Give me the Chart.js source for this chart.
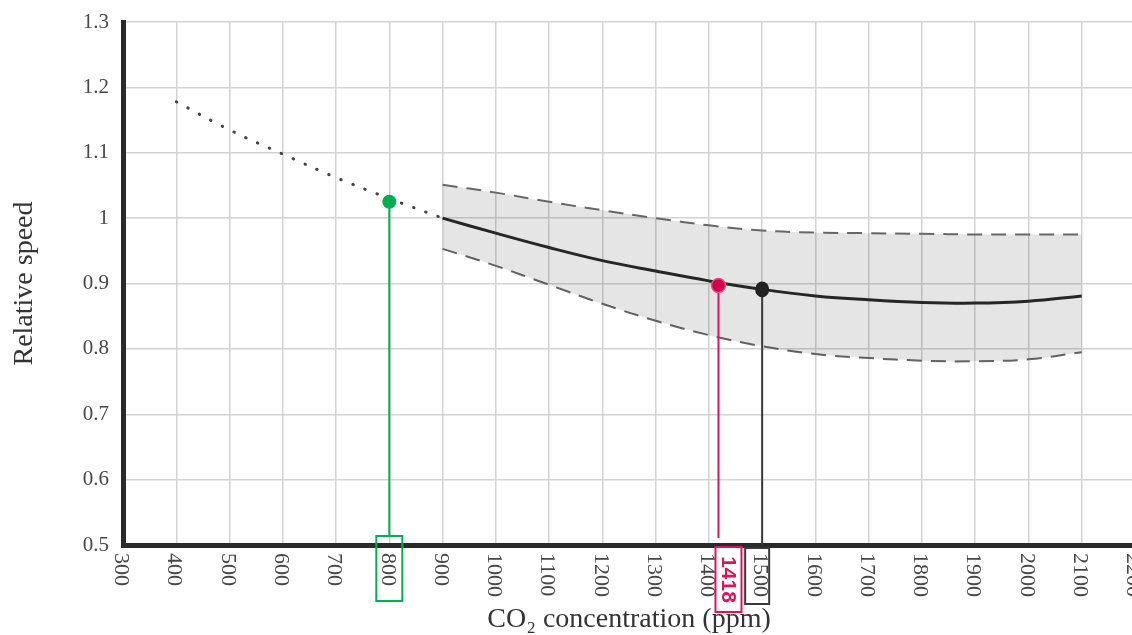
<!DOCTYPE html>
<html>
<head>
<meta charset="utf-8">
<script src="https://cdn.jsdelivr.net/npm/chart.js@4.4.1/dist/chart.umd.min.js"></script>
<style>
  html, body { margin: 0; padding: 0; background: #fff; overflow: hidden; }
  #chart { display: block; }
</style>
</head>
<body>
<canvas id="chart" width="1140" height="635"></canvas>
<script>
// modelled range (ppm) with mean and spread
const co2Band = [900, 1000, 1100, 1200, 1300, 1400, 1500, 1600, 1700, 1800, 1900, 2000, 2100];
const speedMean = [1.0, 0.977, 0.955, 0.935, 0.919, 0.904, 0.891, 0.881, 0.875, 0.871, 0.870, 0.873, 0.881];
const speedUpper = [1.051, 1.039, 1.025, 1.012, 1.0, 0.989, 0.981, 0.978, 0.977, 0.976, 0.975, 0.975, 0.975];
const speedLower = [0.953, 0.927, 0.898, 0.869, 0.843, 0.821, 0.804, 0.792, 0.786, 0.782, 0.781, 0.784, 0.795];

// dotted extrapolation below 900 ppm
const co2Extra = [400, 500, 600, 700, 800, 900];
const speedExtra = [1.178, 1.135, 1.098, 1.062, 1.03, 1.0];

// highlighted readings
const markerCo2 = [800, 1418, 1500];
const markerSpeed = [1.025, 0.897, 0.891];

const pts = (xs, ys) => xs.map((x, i) => ({ x: x, y: ys[i] }));

const serif = "'Liberation Serif', 'Times New Roman', serif";

const markerPlugin = {
  id: "markers",
  afterDraw(chart) {
    const ctx = chart.ctx;
    const xs = chart.scales.x;
    const ys = chart.scales.y;

    // rotated x tick labels, reading top to bottom
    ctx.save();
    ctx.font = "22px " + serif;
    ctx.fillStyle = "#484848";
    ctx.textAlign = "left";
    ctx.textBaseline = "middle";
    xs.ticks.forEach((t) => {
      const px = xs.getPixelForValue(t.value) - 2;
      ctx.save();
      ctx.translate(px, 553);
      ctx.rotate(Math.PI / 2);
      ctx.fillText(String(t.value), 0, 0);
      ctx.restore();
    });
    ctx.restore();

    const styles = [
      { color: "#00b050", lineEnd: 536, box: [-13, 536, 26, 65], dot: "#00b050" },
      { color: "#e0115f", lineEnd: 538, box: [-3, 547, 26, 65], dot: "#d4004f" },
      { color: "#3a3a3a", lineEnd: 545, box: [-17, 548, 24, 56], dot: "#222" },
    ];

    markerCo2.forEach((c, i) => {
      const s = styles[i];
      const px = xs.getPixelForValue(c);
      const py = ys.getPixelForValue(markerSpeed[i]);
      ctx.save();
      ctx.strokeStyle = s.color;
      ctx.lineWidth = 2;
      ctx.beginPath();
      ctx.moveTo(px, py);
      ctx.lineTo(px, s.lineEnd);
      ctx.stroke();

      ctx.fillStyle = s.dot;
      ctx.beginPath();
      ctx.ellipse(px, py, 7, i === 2 ? 8 : 7, 0, 0, Math.PI * 2);
      ctx.fill();
      if (i === 1) {
        ctx.strokeStyle = "#f04a86";
        ctx.lineWidth = 1.5;
        ctx.stroke();
      }

      ctx.strokeStyle = s.color;
      ctx.lineWidth = 2;
      ctx.strokeRect(px + s.box[0], s.box[1], s.box[2], s.box[3]);

      if (i === 1) {
        ctx.fillStyle = s.color;
        ctx.font = "bold 21px 'Liberation Sans', Arial, sans-serif";
        ctx.textAlign = "center";
        ctx.textBaseline = "middle";
        ctx.translate(px + s.box[0] + s.box[2] / 2, s.box[1] + s.box[3] / 2);
        ctx.rotate(Math.PI / 2);
        ctx.fillText(String(c), 0, 1);
      }
      ctx.restore();
    });
  },
};

new Chart("chart", {
  type: "line",
  data: {
    datasets: [
      {
        data: pts(co2Band, speedUpper),
        borderColor: "#666",
        borderWidth: 2,
        borderDash: [15, 9],
        backgroundColor: "rgba(0,0,0,0.1)",
        fill: "+1",
        pointRadius: 0,
        tension: 0.4,
      },
      {
        data: pts(co2Band, speedLower),
        borderColor: "#666",
        borderWidth: 2,
        borderDash: [15, 9],
        pointRadius: 0,
        fill: false,
        tension: 0.4,
      },
      {
        data: pts(co2Band, speedMean),
        borderColor: "#2b2b2b",
        borderWidth: 3,
        pointRadius: 0,
        fill: false,
        tension: 0.4,
      },
      {
        data: pts(co2Extra, speedExtra),
        borderColor: "#444",
        borderWidth: 3,
        borderDash: [0.5, 12.5],
        borderCapStyle: "round",
        pointRadius: 0,
        fill: false,
        tension: 0.4,
      },
    ],
  },
  options: {
    responsive: false,
    animation: false,
    layout: { padding: { top: 22, right: 5, left: 0, bottom: 0 } },
    plugins: {
      legend: { display: false },
      tooltip: { enabled: false },
    },
    scales: {
      x: {
        type: "linear",
        min: 300,
        max: 2200,
        afterFit: (s) => { s.height = 90; },
        ticks: { stepSize: 100, display: false, autoSkip: false },
        grid: { color: "#d3d3d3", lineWidth: 1.5, drawTicks: false },
        border: { color: "#2a2a2a", width: 5 },
        title: {
          display: true,
          text: "CO\u2082 concentration (ppm)",
          color: "#333",
          font: { family: serif, size: 28 },
          padding: { top: 0, bottom: -1 },
        },
      },
      y: {
        min: 0.5,
        max: 1.3,
        afterFit: (s) => {
          s.width = 123;
          s.paddingTop = 0;
          s.paddingBottom = 0;
        },
        ticks: {
          stepSize: 0.1,
          padding: 14,
          color: "#484848",
          font: { family: serif, size: 21 },
          callback: (v) => String(+v.toFixed(1)),
        },
        grid: { color: "#d3d3d3", lineWidth: 1.5, drawTicks: false },
        border: { color: "#2a2a2a", width: 5 },
        title: {
          display: true,
          text: "Relative speed",
          color: "#333",
          font: { family: serif, size: 28 },
          padding: { top: 8, bottom: 0 },
        },
      },
    },
  },
  plugins: [markerPlugin],
});
</script>
</body>
</html>
